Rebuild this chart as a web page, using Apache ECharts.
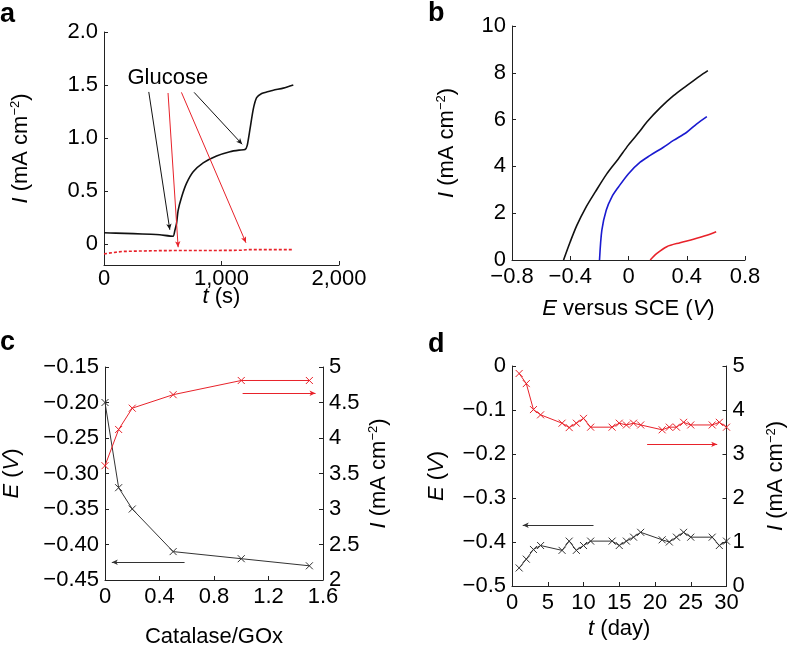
<!DOCTYPE html>
<html>
<head>
<meta charset="utf-8">
<script src="https://cdn.jsdelivr.net/npm/echarts@6/dist/echarts.min.js"></script>
<style>
html,body{margin:0;padding:0;background:#fff;}
#chart{width:788px;height:649px;}
</style>
</head>
<body>
<div id="chart"></div>
<script>
// ---------- Panel a : chronoamperometry ----------
const aBlackT = [0, 100, 250, 400, 475, 588, 603, 617, 631, 660, 702, 759, 844, 958, 1072, 1150, 1200, 1219, 1242, 1270, 1299, 1342, 1390, 1441, 1526, 1570, 1611];
const aBlackI = [0.104, 0.101, 0.096, 0.09, 0.085, 0.072, 0.126, 0.19, 0.316, 0.44, 0.57, 0.68, 0.765, 0.83, 0.87, 0.885, 0.89, 0.93, 1.08, 1.27, 1.38, 1.42, 1.435, 1.45, 1.47, 1.485, 1.50];
const aRedT = [0, 80, 160, 300, 500, 800, 1100, 1180, 1220, 1400, 1611];
const aRedI = [-0.095, -0.082, -0.072, -0.068, -0.064, -0.063, -0.062, -0.06, -0.055, -0.055, -0.055];
// Glucose annotation arrows: [t1, I1, t2, I2]
const aArrowsBlack = [[381, 1.434, 560, 0.133], [767, 1.43, 1176, 0.94]];
const aArrowsRed = [[545, 1.424, 631, -0.032], [659, 1.43, 1208, 0.01]];
const aGlucoseLabel = [543, 1.57];
const aYTicks = [0, 0.5, 1.0, 1.5, 2.0];

// ---------- Panel b : polarization ----------
const bBlackE = [-0.446, -0.4, -0.354, -0.297, -0.228, -0.148, -0.069, 0, 0.08, 0.126, 0.217, 0.309, 0.4, 0.492, 0.545];
const bBlackI = [0, 0.78, 1.49, 2.2, 2.91, 3.69, 4.33, 4.92, 5.52, 5.9, 6.5, 7.02, 7.45, 7.87, 8.09];
const bBlueE = [-0.199, -0.183, -0.153, -0.114, -0.069, 0, 0.08, 0.149, 0.24, 0.309, 0.4, 0.469, 0.538];
const bBlueI = [0, 1.28, 2.13, 2.70, 3.12, 3.69, 4.18, 4.47, 4.82, 5.11, 5.46, 5.82, 6.13];
const bRedE = [0.149, 0.195, 0.263, 0.354, 0.446, 0.538, 0.602];
const bRedI = [0, 0.28, 0.57, 0.74, 0.89, 1.06, 1.21];

// ---------- Panel c : catalase/GOx ratio ----------
const cRatio = [0, 0.1, 0.2, 0.5, 1.0, 1.5];
const cE = [-0.20, -0.32, -0.35, -0.41, -0.42, -0.43];
const cI = [3.61, 4.12, 4.42, 4.61, 4.81, 4.81];
const cArrowE = [0.584, -0.425, 0.05, -0.425];
const cArrowI = [1.01, 4.63, 1.545, 4.63];

// ---------- Panel d : stability ----------
const dDay = [1, 2, 3, 4, 7, 8, 9, 10, 11, 14, 15, 16, 17, 18, 21, 22, 23, 24, 25, 28, 29, 30];
const dE = [-0.459, -0.439, -0.417, -0.408, -0.419, -0.398, -0.419, -0.408, -0.398, -0.398, -0.408, -0.398, -0.389, -0.378, -0.395, -0.40, -0.389, -0.378, -0.389, -0.389, -0.408, -0.398];
const dI = [4.83, 4.6, 4.01, 3.89, 3.70, 3.6, 3.70, 3.81, 3.61, 3.61, 3.70, 3.66, 3.70, 3.66, 3.55, 3.61, 3.61, 3.72, 3.66, 3.66, 3.72, 3.61];
const dArrowE = [11.4, -0.362, 1.5, -0.362];
const dArrowI = [18.9, 3.22, 28.7, 3.22];

// ---------- helpers ----------
const FONT = 'Liberation Sans';
const FS = 22;
const zip = (xs, ys) => xs.map((x, i) => [x, ys[i]]);
const minus = s => String(s).replace('-', '\u2212');
const BLACK = '#111111';
const RED = '#e8222a';
const BLUE = '#1a1ad0';
const GREY = '#333333';
const XMARK = 'path://M0 0L10 10M10 0L0 10';
const TXT = '#000';

const rich = {
  i: {fontStyle: 'italic', fontSize: FS, fontFamily: FONT, color: TXT},
  n: {fontSize: FS, fontFamily: FONT, color: TXT},
  s: {fontSize: 13, fontFamily: FONT, color: TXT, verticalAlign: 'top', padding: [0, 0, 10, 0]}
};
const nameStyle = {fontSize: FS, fontFamily: FONT, color: TXT, rich: rich};
const currentName = '{i|I}{n| (mA cm}{s|\u22122}{n|)}';
const lbl = (extra) => Object.assign({fontSize: FS, fontFamily: FONT, color: TXT, margin: 6}, extra || {});

function axisBase(extra) {
  return Object.assign({
    axisLine: {show: true, onZero: false, lineStyle: {color: '#222', width: 1}},
    axisTick: {show: true, inside: true, length: 4, lineStyle: {color: '#222', width: 1}},
    splitLine: {show: false},
    axisLabel: lbl(),
    nameTextStyle: nameStyle,
    nameLocation: 'middle',
    nameMoveOverlap: false
  }, extra);
}

function arrowLine(coords, color) {
  return [{coord: [coords[0], coords[1]], lineStyle: {color: color}}, {coord: [coords[2], coords[3]]}];
}

const option = {
  animation: false,
  backgroundColor: '#ffffff',
  textStyle: {fontFamily: FONT},
  grid: [
    {left: 104, top: 32, width: 235, height: 233},
    {left: 512, top: 26, width: 233, height: 234},
    {left: 103, top: 367, width: 220, height: 220},
    {left: 512, top: 366, width: 218, height: 220}
  ],
  xAxis: [
    axisBase({gridIndex: 0, type: 'value', min: 0, max: 2000, interval: 1000,
      name: '{i|t}{n| (s)}', nameGap: 21,
      axisLabel: lbl({margin: 3, formatter: v => v === 0 ? '0' : v.toLocaleString('en-US')})}),
    axisBase({gridIndex: 1, type: 'value', min: -0.8, max: 0.8, interval: 0.4,
      name: '{i|E}{n| versus SCE (}{i|V}{n|)}', nameGap: 38,
      axisLabel: lbl({formatter: v => Math.abs(v) < 1e-9 ? '0' : minus(v.toFixed(1))})}),
    axisBase({gridIndex: 2, type: 'value', min: 0, max: 1.6, interval: 0.4,
      name: '{n|Catalase/GOx}', nameGap: 46,
      axisLabel: lbl({formatter: v => Math.abs(v) < 1e-9 ? '0' : v.toFixed(1)})}),
    axisBase({gridIndex: 3, type: 'value', min: 0, max: 30, interval: 5,
      name: '{i|t}{n| (day)}', nameGap: 32})
  ],
  yAxis: [
    axisBase({gridIndex: 0, type: 'value', min: -0.2, max: 2.0,
      name: currentName, nameRotate: 90, nameGap: 72,
      axisTick: {show: true, inside: true, length: 4, lineStyle: {color: '#222'}, customValues: aYTicks},
      axisLabel: lbl({customValues: aYTicks, formatter: v => v === 0 ? '0' : v.toFixed(1)})}),
    axisBase({gridIndex: 1, type: 'value', min: 0, max: 10, interval: 2,
      name: currentName, nameRotate: 90, nameGap: 54}),
    axisBase({gridIndex: 2, type: 'value', min: -0.45, max: -0.15, interval: 0.05, position: 'left',
      name: '{i|E}{n| (}{i|V}{n|)}', nameRotate: 90, nameGap: 82,
      axisLabel: lbl({formatter: v => minus(v.toFixed(2))})}),
    axisBase({gridIndex: 2, type: 'value', min: 2, max: 5, interval: 0.5, position: 'right',
      name: currentName, nameRotate: 90, nameGap: 44,
      axisLabel: lbl({formatter: v => String(v)})}),
    axisBase({gridIndex: 3, type: 'value', min: -0.5, max: 0, interval: 0.1, position: 'left',
      name: '{i|E}{n| (}{i|V}{n|)}', nameRotate: 90, nameGap: 64,
      axisLabel: lbl({formatter: v => Math.abs(v) < 1e-9 ? '0' : minus(v.toFixed(1))})}),
    axisBase({gridIndex: 3, type: 'value', min: 0, max: 5, interval: 1, position: 'right',
      name: currentName, nameRotate: 90, nameGap: 38})
  ],
  series: [
    // panel a
    {type: 'line', xAxisIndex: 0, yAxisIndex: 0, data: zip(aBlackT, aBlackI), showSymbol: false, smooth: 0.2,
      lineStyle: {color: BLACK, width: 1.6}, z: 3},
    {type: 'line', xAxisIndex: 0, yAxisIndex: 0, data: zip(aRedT, aRedI), showSymbol: false,
      lineStyle: {color: RED, width: 1.6, type: [3, 2]}, z: 3,
      markLine: {silent: true, symbol: ['none', 'arrow'], symbolSize: [4, 6], label: {show: false},
        lineStyle: {type: 'solid', width: 1},
        data: aArrowsBlack.map(c => arrowLine(c, BLACK)).concat(aArrowsRed.map(c => arrowLine(c, RED)))}},
    {type: 'scatter', xAxisIndex: 0, yAxisIndex: 0, data: [aGlucoseLabel], symbolSize: 1,
      itemStyle: {opacity: 0},
      label: {show: true, position: 'inside', formatter: 'Glucose', fontSize: 22, fontFamily: FONT,
        color: TXT, opacity: 1, textBorderWidth: 0}},
    // panel b
    {type: 'line', xAxisIndex: 1, yAxisIndex: 1, data: zip(bBlackE, bBlackI), showSymbol: false, smooth: 0.3,
      lineStyle: {color: BLACK, width: 1.6}},
    {type: 'line', xAxisIndex: 1, yAxisIndex: 1, data: zip(bBlueE, bBlueI), showSymbol: false, smooth: 0.3,
      lineStyle: {color: BLUE, width: 1.6}},
    {type: 'line', xAxisIndex: 1, yAxisIndex: 1, data: zip(bRedE, bRedI), showSymbol: false, smooth: 0.3,
      lineStyle: {color: RED, width: 1.6}},
    // panel c
    {type: 'line', xAxisIndex: 2, yAxisIndex: 2, data: zip(cRatio, cE), symbol: XMARK, symbolSize: 7,
      lineStyle: {color: GREY, width: 1}, itemStyle: {color: GREY, borderColor: GREY, borderWidth: 1},
      markLine: {silent: true, symbol: ['none', 'arrow'], symbolSize: [4, 6], label: {show: false},
        lineStyle: {type: 'solid', width: 1, color: GREY}, data: [arrowLine(cArrowE, GREY)]}},
    {type: 'line', xAxisIndex: 2, yAxisIndex: 3, data: zip(cRatio, cI), symbol: XMARK, symbolSize: 7,
      lineStyle: {color: RED, width: 1}, itemStyle: {color: RED, borderColor: RED, borderWidth: 1},
      markLine: {silent: true, symbol: ['none', 'arrow'], symbolSize: [4, 6], label: {show: false},
        lineStyle: {type: 'solid', width: 1, color: RED}, data: [arrowLine(cArrowI, RED)]}},
    // panel d
    {type: 'line', xAxisIndex: 3, yAxisIndex: 4, data: zip(dDay, dE), symbol: XMARK, symbolSize: 7,
      lineStyle: {color: GREY, width: 1}, itemStyle: {color: GREY, borderColor: GREY, borderWidth: 1},
      markLine: {silent: true, symbol: ['none', 'arrow'], symbolSize: [4, 6], label: {show: false},
        lineStyle: {type: 'solid', width: 1, color: GREY}, data: [arrowLine(dArrowE, GREY)]}},
    {type: 'line', xAxisIndex: 3, yAxisIndex: 5, data: zip(dDay, dI), symbol: XMARK, symbolSize: 7,
      lineStyle: {color: RED, width: 1}, itemStyle: {color: RED, borderColor: RED, borderWidth: 1},
      markLine: {silent: true, symbol: ['none', 'arrow'], symbolSize: [4, 6], label: {show: false},
        lineStyle: {type: 'solid', width: 1, color: RED}, data: [arrowLine(dArrowI, RED)]}}
  ],
  graphic: [
    {type: 'text', left: 0, top: 1, style: {text: 'a', font: 'bold 27px "Liberation Sans"', fill: '#000'}},
    {type: 'text', left: 428, top: 0, style: {text: 'b', font: 'bold 27px "Liberation Sans"', fill: '#000'}},
    {type: 'text', left: 0, top: 329, style: {text: 'c', font: 'bold 27px "Liberation Sans"', fill: '#000'}},
    {type: 'text', left: 428, top: 331, style: {text: 'd', font: 'bold 27px "Liberation Sans"', fill: '#000'}}
  ]
};

const chart = echarts.init(document.getElementById('chart'), null, {renderer: 'canvas'});
chart.setOption(option);
</script>
</body>
</html>
